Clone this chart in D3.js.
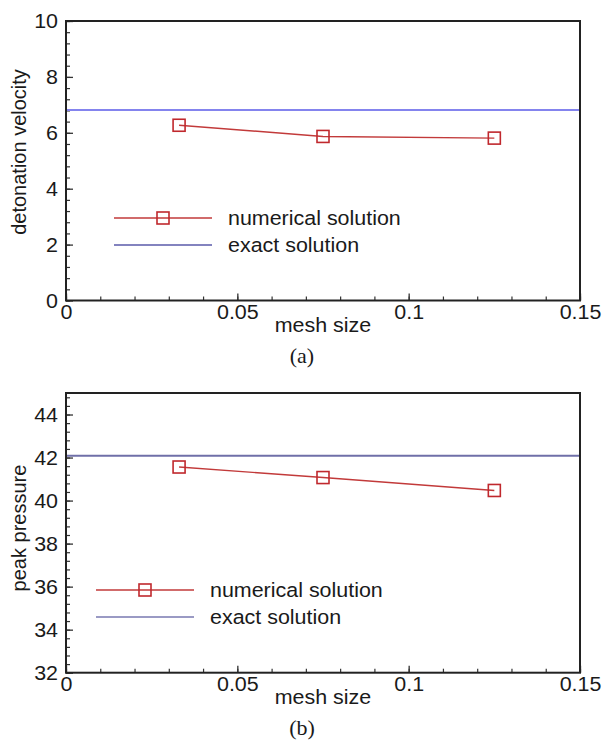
<!DOCTYPE html>
<html lang="en">
<head>
<meta charset="UTF-8">
<title>Mesh convergence</title>
<script src="https://cdn.jsdelivr.net/npm/d3@7"></script>
<style>
    body { margin: 0; background: #ffffff; }
    svg text { font-family: Arial, "Liberation Sans", sans-serif; fill: #1a1a1a; }
    .caption { font-family: "Times New Roman", "Liberation Serif", serif; }
</style>
</head>
<body>
<div id="container"></div>
<script>

    // mesh sizes of the three runs
    const meshSize = [0.033, 0.075, 0.125];

    // detonation velocity, numerical vs exact
    const velocityNum = [6.27, 5.87, 5.81];
    const velocityExact = 6.82;

    // peak pressure, numerical vs exact
    const pressureNum = [41.56, 41.07, 40.47];
    const pressureExact = 42.08;

    const xTicks = [0, 0.05, 0.1, 0.15];
    const velocityTicks = [0, 2, 4, 6, 8, 10];
    const pressureTicks = [32, 34, 36, 38, 40, 42, 44];
    const legendLabels = ["numerical solution", "exact solution"];

    const svg = d3.select("#container")
        .append("svg")
        .attr("width", 605)
        .attr("height", 742)
        .style("background-color", "#ffffff");

    const left = 66, right = 580;
    const sx = 1.1;          // labels are slightly wide
    const fs = 19.5;

    function panel(o) {
        const g = svg.append("g");
        const x = d3.scaleLinear().domain([0, 0.15]).range([left, right]);
        const y = d3.scaleLinear().domain(o.yDomain).range([o.bottom, o.top]);

        // minor ticks
        const xMinor = d3.range(0, 0.1501, 0.01).map(v => +v.toFixed(2));
        const yMinor = d3.range(o.yDomain[0], o.yDomain[1] + 0.001, 0.4).map(v => +v.toFixed(1));

        g.append("g")
            .attr("transform", "translate(0," + o.bottom + ")")
            .call(d3.axisBottom(x).tickValues(xMinor).tickSize(-4).tickFormat(""))
            .call(a => a.select(".domain").remove())
            .selectAll("line").attr("stroke", "#333").attr("stroke-width", 1.2);

        g.append("g")
            .attr("transform", "translate(" + left + ",0)")
            .call(d3.axisLeft(y).tickValues(yMinor).tickSize(-4).tickFormat(""))
            .call(a => a.select(".domain").remove())
            .selectAll("line").attr("stroke", "#333").attr("stroke-width", 1.2);

        // major ticks + labels
        const xa = g.append("g")
            .attr("transform", "translate(0," + o.bottom + ")")
            .call(d3.axisBottom(x).tickValues(xTicks).tickSize(-7).tickFormat(d => String(d)))
            .call(a => a.select(".domain").remove());
        xa.selectAll("line").attr("stroke", "#333").attr("stroke-width", 1.3);
        xa.selectAll("text")
            .attr("y", 0).attr("dy", 0)
            .attr("transform", "translate(0,18) scale(" + sx + ",1)")
            .style("font-size", fs + "px")
            .attr("fill", "#1a1a1a");

        const ya = g.append("g")
            .attr("transform", "translate(" + left + ",0)")
            .call(d3.axisLeft(y).tickValues(o.yTicks).tickSize(-7))
            .call(a => a.select(".domain").remove());
        ya.selectAll("line").attr("stroke", "#333").attr("stroke-width", 1.3);
        ya.selectAll("text")
            .attr("x", 0).attr("dy", "0.35em")
            .attr("transform", "translate(-8,0) scale(" + sx + ",1)")
            .style("font-size", fs + "px")
            .attr("fill", "#1a1a1a");

        // exact solution
        const flat = d3.line().x(d => x(d)).y(() => y(o.exact));
        g.append("path")
            .datum(x.domain())
            .attr("d", flat)
            .attr("fill", "none")
            .attr("stroke", o.exactColor)
            .attr("stroke-width", 2);

        // numerical solution
        const pts = meshSize.map((m, i) => [m, o.values[i]]);
        g.append("path")
            .datum(pts)
            .attr("d", d3.line().x(d => x(d[0])).y(d => y(d[1])))
            .attr("fill", "none")
            .attr("stroke", "#c23a3a")
            .attr("stroke-width", 1.4);
        g.selectAll(".pt")
            .data(pts)
            .join("rect")
            .attr("class", "pt")
            .attr("x", d => x(d[0]) - 6)
            .attr("y", d => y(d[1]) - 6)
            .attr("width", 12)
            .attr("height", 12)
            .attr("fill", "none")
            .attr("stroke", "#c0282d")
            .attr("stroke-width", 1.6);

        // frame
        g.append("rect")
            .attr("x", left).attr("y", o.top)
            .attr("width", right - left).attr("height", o.bottom - o.top)
            .attr("fill", "none")
            .attr("stroke", "#222")
            .attr("stroke-width", 2);

        // legend
        const lg = g.append("g").attr("transform", "translate(" + o.legendX + "," + (o.top + 197) + ")");
        lg.append("line").attr("x1", 0).attr("x2", 98).attr("y1", 0).attr("y2", 0)
            .attr("stroke", "#c23a3a").attr("stroke-width", 1.4);
        lg.append("rect").attr("x", 43).attr("y", -6).attr("width", 12).attr("height", 12)
            .attr("fill", "none").attr("stroke", "#c0282d").attr("stroke-width", 1.6);
        lg.append("line").attr("x1", 0).attr("x2", 98).attr("y1", 27).attr("y2", 27)
            .attr("stroke", o.legendExact).attr("stroke-width", 1.4);
        lg.selectAll(".lt")
            .data(legendLabels)
            .join("text")
            .attr("class", "lt")
            .attr("dy", "0.35em")
            .attr("transform", (d, i) => "translate(114," + (i * 27) + ") scale(" + sx + ",1)")
            .style("font-size", fs + "px")
            .text(d => d);

        // axis titles
        g.append("text")
            .attr("text-anchor", "middle")
            .attr("transform", "translate(323," + (o.bottom + 31) + ") scale(" + sx + ",1)")
            .style("font-size", fs + "px")
            .text("mesh size");
        g.append("text")
            .attr("text-anchor", "middle")
            .attr("transform", "translate(26," + o.titleY + ") rotate(-90)")
            .style("font-size", "20px")
            .text(o.title);

        g.append("text")
            .attr("class", "caption")
            .attr("text-anchor", "middle")
            .attr("x", 302)
            .attr("y", o.bottom + 62)
            .style("font-size", "22px")
            .text(o.caption);
    }

    panel({
        top: 21, bottom: 300.5, yDomain: [0, 10], yTicks: velocityTicks,
        values: velocityNum, exact: velocityExact,
        exactColor: "#8484ee", legendExact: "#5a5aaa", legendX: 114,
        title: "detonation velocity", titleY: 152, caption: "(a)"
    });

    panel({
        top: 393, bottom: 672.7, yDomain: [32, 45], yTicks: pressureTicks,
        values: pressureNum, exact: pressureExact,
        exactColor: "#6f6fa8", legendExact: "#7878b0", legendX: 96,
        title: "peak pressure", titleY: 528, caption: "(b)"
    });

</script>
</body>
</html>
